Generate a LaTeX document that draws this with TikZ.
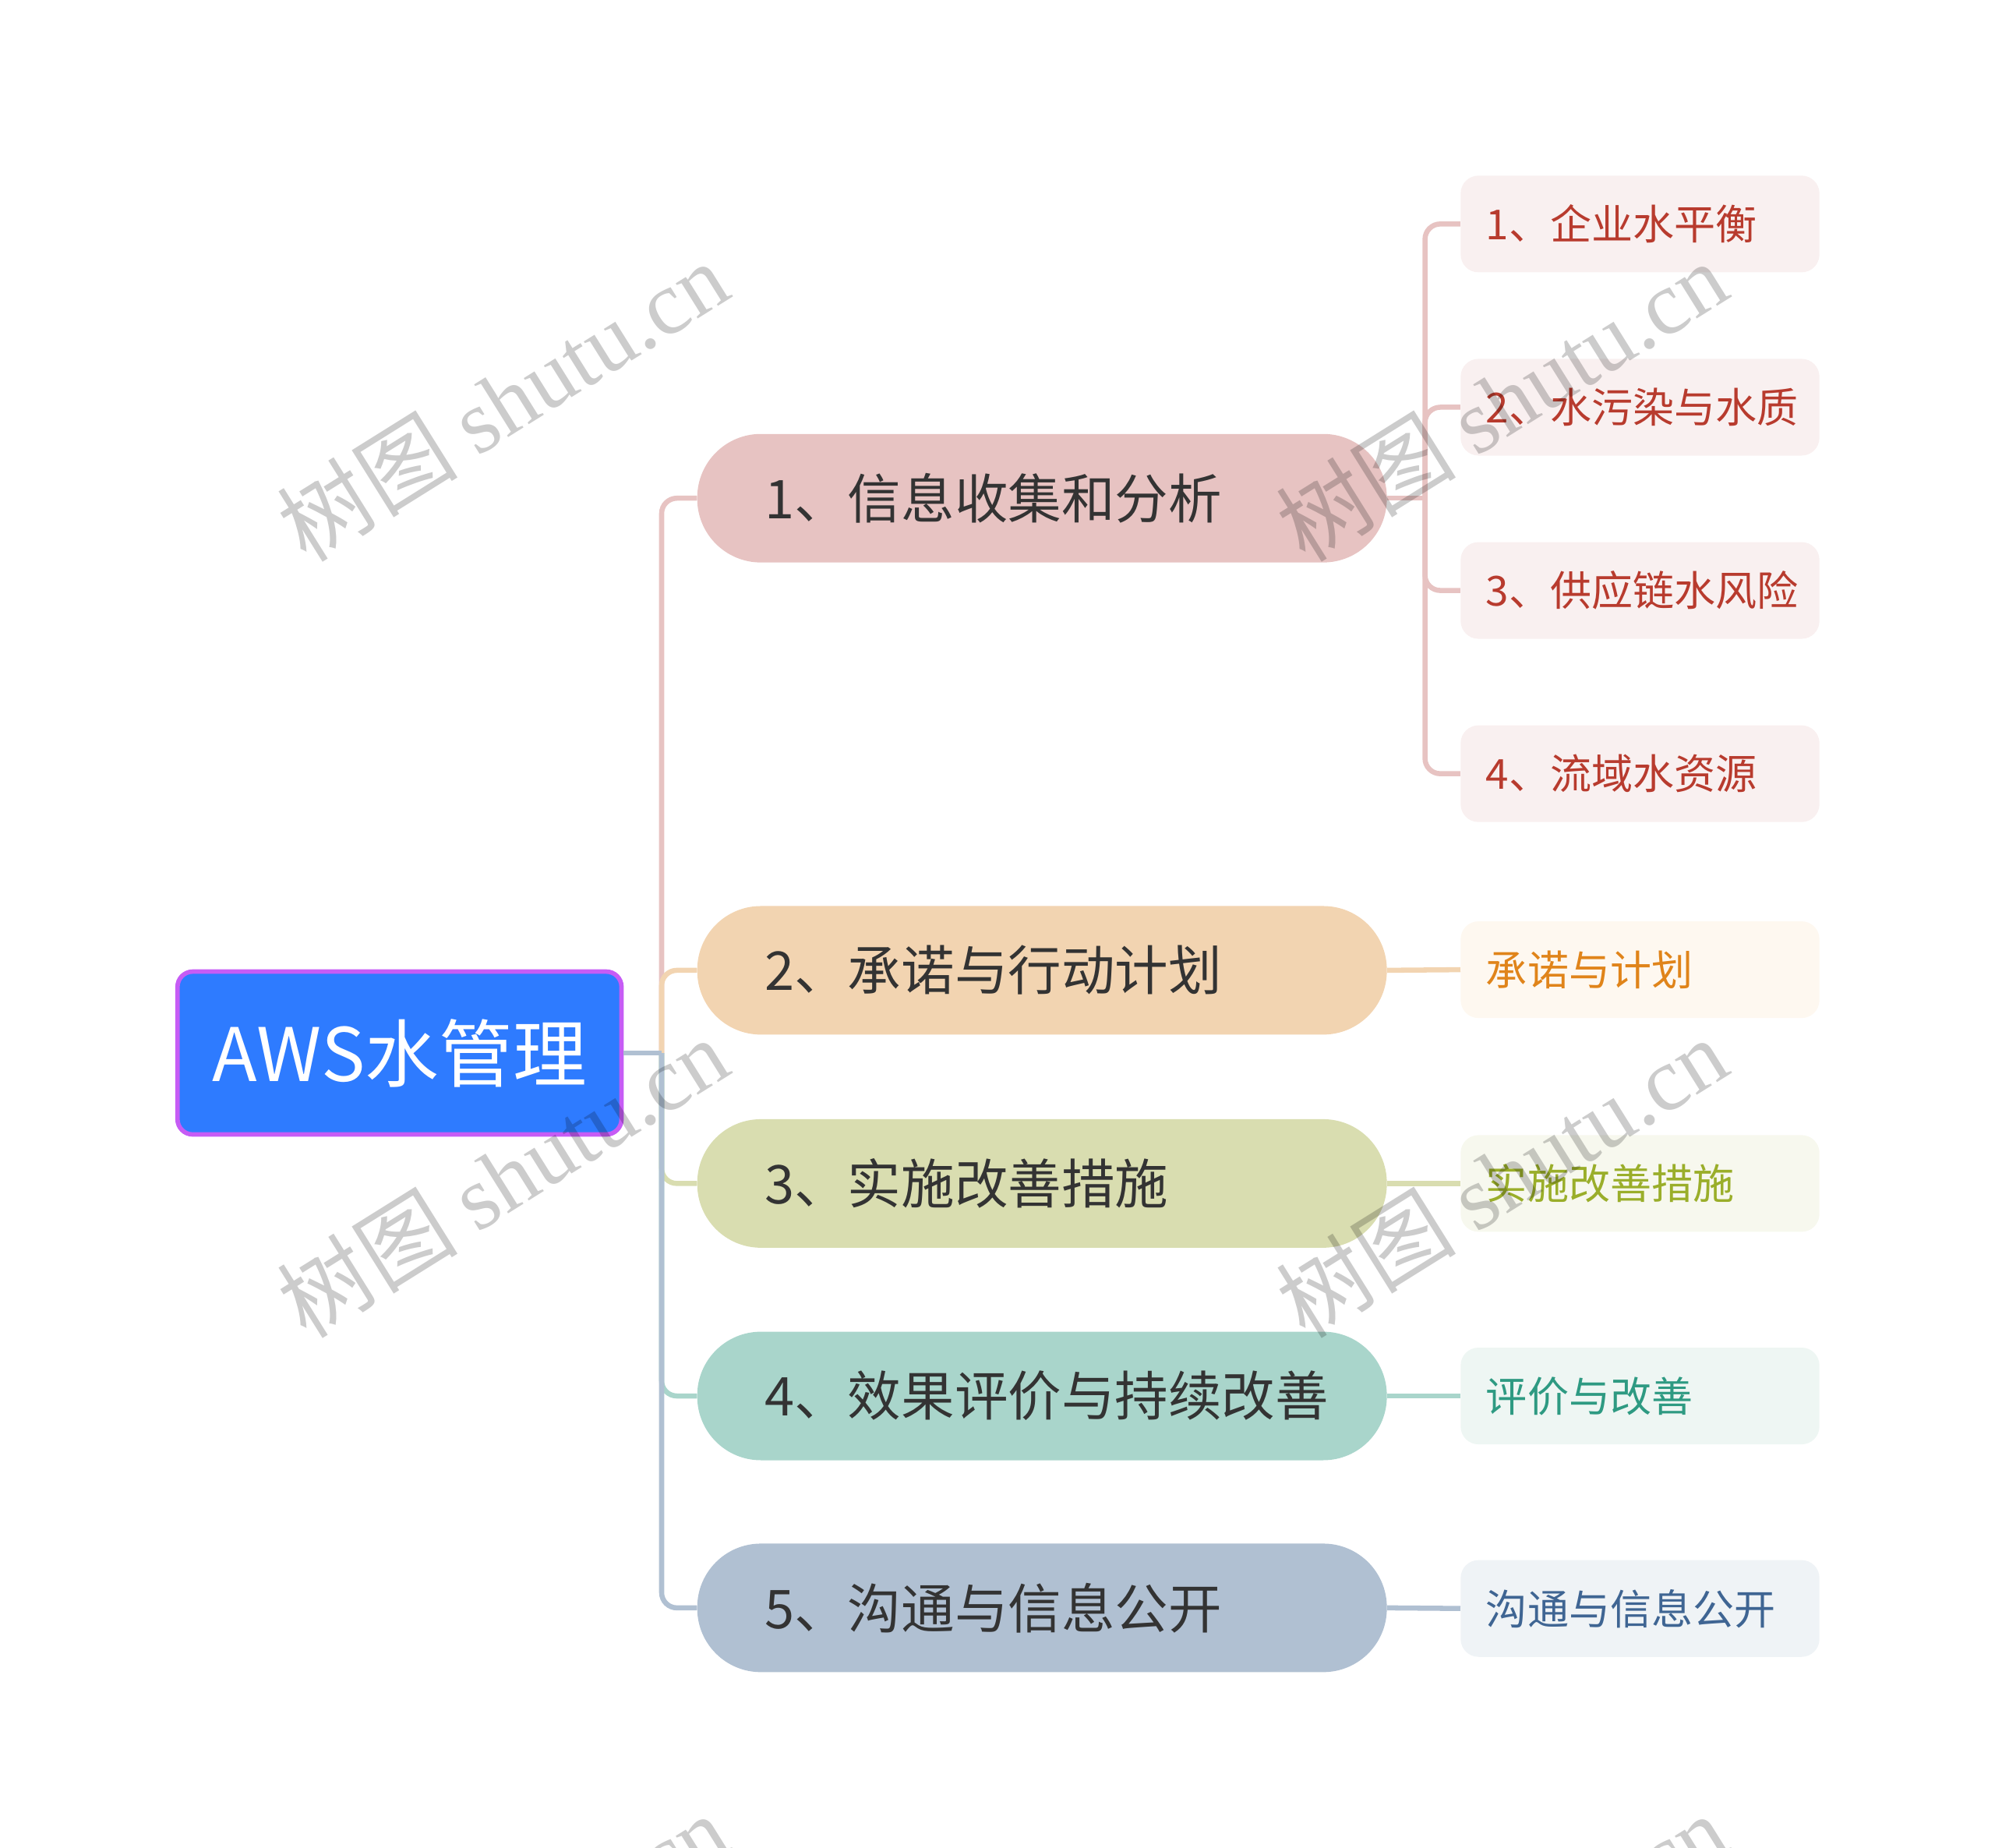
\documentclass[tikz,border=0pt]{standalone}
\usepackage{fontspec}
\setmainfont{Noto Sans CJK SC}
\newfontfamily\wmlat{Liberation Serif}
\newfontfamily\wmcjk{Noto Sans CJK SC}
\definecolor{rootblue}{RGB}{46,123,255}
\definecolor{rootpurple}{RGB}{198,92,245}
\definecolor{txtdark}{RGB}{51,51,51}
\definecolor{cA}{RGB}{231,195,194}
\definecolor{cB}{RGB}{242,212,177}
\definecolor{cC}{RGB}{217,221,176}
\definecolor{cD}{RGB}{169,213,203}
\definecolor{cE}{RGB}{176,192,210}
\definecolor{lA}{RGB}{249,240,240}
\definecolor{lB}{RGB}{254,248,240}
\definecolor{lC}{RGB}{247,248,238}
\definecolor{lD}{RGB}{238,246,243}
\definecolor{lE}{RGB}{239,243,246}
\definecolor{tA}{RGB}{184,59,46}
\definecolor{tB}{RGB}{224,132,26}
\definecolor{tC}{RGB}{154,174,42}
\definecolor{tD}{RGB}{46,154,130}
\definecolor{tE}{RGB}{63,101,147}
\begin{document}
\begin{tikzpicture}[x=1pt,y=-1pt,
  rootbox/.style={rectangle, rounded corners=12pt, minimum width=349pt, minimum height=128pt,
    fill=rootblue, draw=rootpurple, line width=3.5pt, text=white, inner sep=0pt,
    font=\fontsize{58}{66}\selectfont},
  pill/.style={rectangle, rounded corners=50pt, minimum height=101pt, text width=436pt,
    inner xsep=53pt, inner ysep=0pt, align=left, text=txtdark,
    font=\fontsize{42}{50}\selectfont},
  leaf/.style={rectangle, rounded corners=14pt, minimum height=76pt, text width=242pt,
    inner xsep=20pt, inner ysep=0pt, align=left,
    font=\fontsize{32.5}{40}\selectfont},
  conn/.style={line width=4pt, rounded corners=12pt},
  wm/.style={text=black, text opacity=0.2, rotate=32, inner sep=0pt,
    font=\fontsize{71}{78}\selectfont}
]
\useasboundingbox (0,0) rectangle (1568,1452);

% connectors (drawn first, nodes on top)
\coordinate (J) at (520,827.5);
\coordinate (K) at (1120,391.5);

% nodes
\node[rootbox] (root) at (314,827.5) {AWS水管理};
\node[pill, fill=cA] (p1) at (819,391.5) {1、信息收集和分析};
\node[pill, fill=cB] (p2) at (819,762.5) {2、承诺与行动计划};
\node[pill, fill=cC] (p3) at (819,930) {3、实施改善措施};
\node[pill, fill=cD] (p4) at (819,1097) {4、效果评价与持续改善};
\node[pill, fill=cE] (p5) at (819,1263.5) {5、沟通与信息公开};

\node[leaf, fill=lA, text=tA] (a1) at (1289,176) {1、企业水平衡};
\node[leaf, fill=lA, text=tA] (a2) at (1289,320) {2、水污染与水质};
\node[leaf, fill=lA, text=tA] (a3) at (1289,464) {3、供应链水风险};
\node[leaf, fill=lA, text=tA] (a4) at (1289,608) {4、流域水资源};
\node[leaf, fill=lB, text=tB] (b1) at (1289,762) {承诺与计划};
\node[leaf, fill=lC, text=tC] (c1) at (1289,930) {实施改善措施};
\node[leaf, fill=lD, text=tD] (d1) at (1289,1097) {评价与改善};
\node[leaf, fill=lE, text=tE] (e1) at (1289,1264) {沟通与信息公开};

\draw[conn, draw=cA] (J) |- (p1.west);
\draw[conn, draw=cB] (J) |- (p2.west);
\draw[conn, draw=cC] (J) |- (p3.west);
\draw[conn, draw=cD] (J) |- (p4.west);
\draw[conn, draw=cE] (J) |- (p5.west);
\draw[conn, draw=cE] (root.east) -- (J);
\draw[conn, draw=cA] (p1.east) -- (K);
\draw[conn, draw=cA] (K) |- (a1.west);
\draw[conn, draw=cA] (K) |- (a2.west);
\draw[conn, draw=cA] (K) |- (a3.west);
\draw[conn, draw=cA] (K) |- (a4.west);
\draw[conn, draw=cB] (p2.east) -- (b1.west);
\draw[conn, draw=cC] (p3.east) -- (c1.west);
\draw[conn, draw=cD] (p4.east) -- (d1.west);
\draw[conn, draw=cE] (p5.east) -- (e1.west);

% watermarks
\begin{scope}
\clip (0,0) rectangle (1568,1452);
\foreach \cx/\cy [count=\i] in {395/315, 1180/315, 395/925, 1180/925, 395/1535, 1180/1535}{
  \node[wm] (wm\i) at (\cx,\cy) {{\wmcjk 树图} {\wmlat shutu.cn}};
}
\end{scope}
\end{tikzpicture}
\end{document}
